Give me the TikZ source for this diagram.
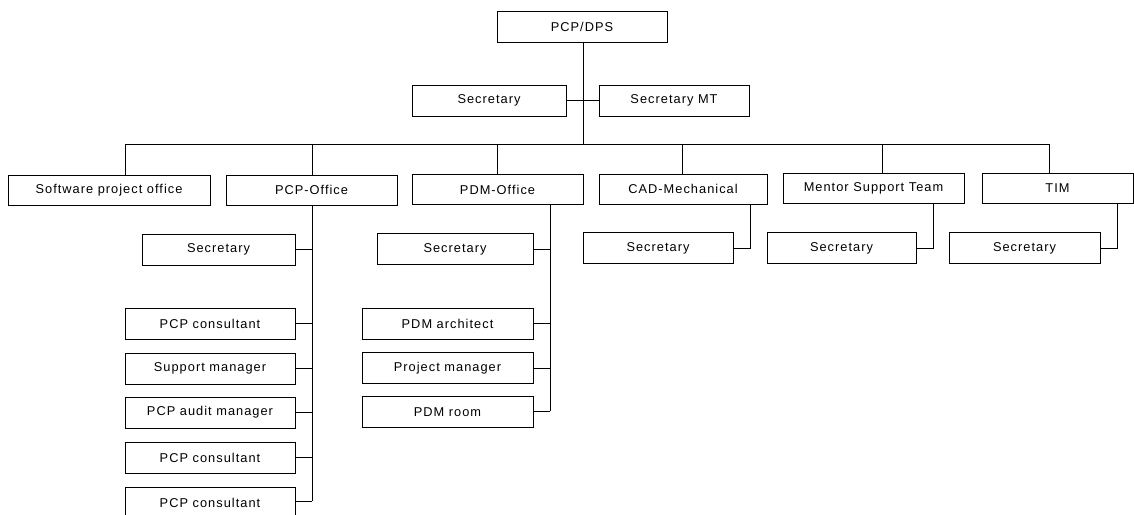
\documentclass[tikz,border=0pt]{standalone}
\usepackage{fontspec}
\setmainfont{Liberation Sans}[LetterSpace=8]
\begin{document}
\begin{tikzpicture}[x=1pt,y=-1pt,
  box/.style={draw,line width=1pt,minimum height=31pt,inner sep=0pt,font=\fontsize{12.8}{14}\selectfont},
  conn/.style={line width=1pt}]
\useasboundingbox (0,0) rectangle (1134,514);
% top level
\node[box,minimum width=170pt] (top) at (582,26.5) {PCP/DPS};
\node[box,minimum width=154pt] (sec1) at (489,100.5) {Secretary};
\node[box,minimum width=150pt] (secmt) at (674,100.5) {Secretary MT};
% departments
\node[box,minimum width=202pt,minimum height=30pt] (spo) at (109,190) {Software project office};
\node[box,minimum width=171pt,minimum height=30pt] (pcp) at (311.5,190) {PCP-Office};
\node[box,minimum width=171pt,minimum height=30pt] (pdm) at (497.5,189.5) {PDM-Office};
\node[box,minimum width=168pt,minimum height=30pt] (cad) at (683,189) {CAD-Mechanical};
\node[box,minimum width=181pt,minimum height=30pt] (mst) at (873.5,188.5) {Mentor Support Team};
\node[box,minimum width=151pt,minimum height=30pt] (tim) at (1057.5,188.5) {TIM};
% PCP-Office staff
\node[box,minimum width=153pt] (pcpsec) at (218.5,249.5) {Secretary};
\node[box,minimum width=170pt] (pcpc1) at (210,323.5) {PCP consultant};
\node[box,minimum width=170pt] (pcpsm) at (210,368.5) {Support manager};
\node[box,minimum width=170pt] (pcpam) at (210,412.5) {PCP audit manager};
\node[box,minimum width=170pt] (pcpc2) at (210,457.5) {PCP consultant};
\node[box,minimum width=170pt] (pcpc3) at (210,502.5) {PCP consultant};
% PDM-Office staff
\node[box,minimum width=156pt] (pdmsec) at (455,249) {Secretary};
\node[box,minimum width=171pt] (pdmarch) at (447.5,323.5) {PDM architect};
\node[box,minimum width=171pt] (pdmpm) at (447.5,368) {Project manager};
\node[box,minimum width=171pt] (pdmroom) at (447.5,412) {PDM room};
% other secretaries
\node[box,minimum width=150pt] (cadsec) at (658,248) {Secretary};
\node[box,minimum width=149pt] (mstsec) at (841.5,248) {Secretary};
\node[box,minimum width=151pt] (timsec) at (1024.5,248) {Secretary};
% bus coordinates
\coordinate (bspo) at (125,144);
\coordinate (bpcp) at (312,144);
\coordinate (bpdm) at (497,144);
\coordinate (bcad) at (682,144);
\coordinate (bmst) at (882,144);
\coordinate (btim) at (1049,144);
\coordinate (btop) at (583,144);
% connectors top
\draw[conn] (top.south -| btop) -- (btop);
\draw[conn] (sec1.east) -- (secmt.west);
\draw[conn] (bspo) -- (btim);
\draw[conn] (bspo) -- (bspo |- spo.north);
\draw[conn] (bpcp) -- (bpcp |- pcp.north);
\draw[conn] (bpdm) -- (bpdm |- pdm.north);
\draw[conn] (bcad) -- (bcad |- cad.north);
\draw[conn] (bmst) -- (bmst |- mst.north);
\draw[conn] (btim) -- (btim |- tim.north);
% PCP-Office
\coordinate (pcpv) at (312,501);
\draw[conn] (pcpv |- pcp.south) -- (pcpv);
\foreach \n in {pcpsec,pcpc1,pcpsm,pcpam,pcpc2}{\draw[conn] (\n.east) -- (\n.east -| pcpv);}
\draw[conn] (pcpc3.east |- pcpv) -- (pcpv);
% PDM-Office
\coordinate (pdmv) at (550,411);
\draw[conn] (pdmv |- pdm.south) -- (pdmv);
\foreach \n in {pdmsec,pdmarch,pdmpm}{\draw[conn] (\n.east) -- (\n.east -| pdmv);}
\draw[conn] (pdmroom.east |- pdmv) -- (pdmv);
% single secretaries
\coordinate (cadv) at (750,0);
\coordinate (mstv) at (933,0);
\coordinate (timv) at (1117,0);
\draw[conn] (cadv |- cad.south) |- (cadsec.east);
\draw[conn] (mstv |- mst.south) |- (mstsec.east);
\draw[conn] (timv |- tim.south) |- (timsec.east);
\end{tikzpicture}
\end{document}
